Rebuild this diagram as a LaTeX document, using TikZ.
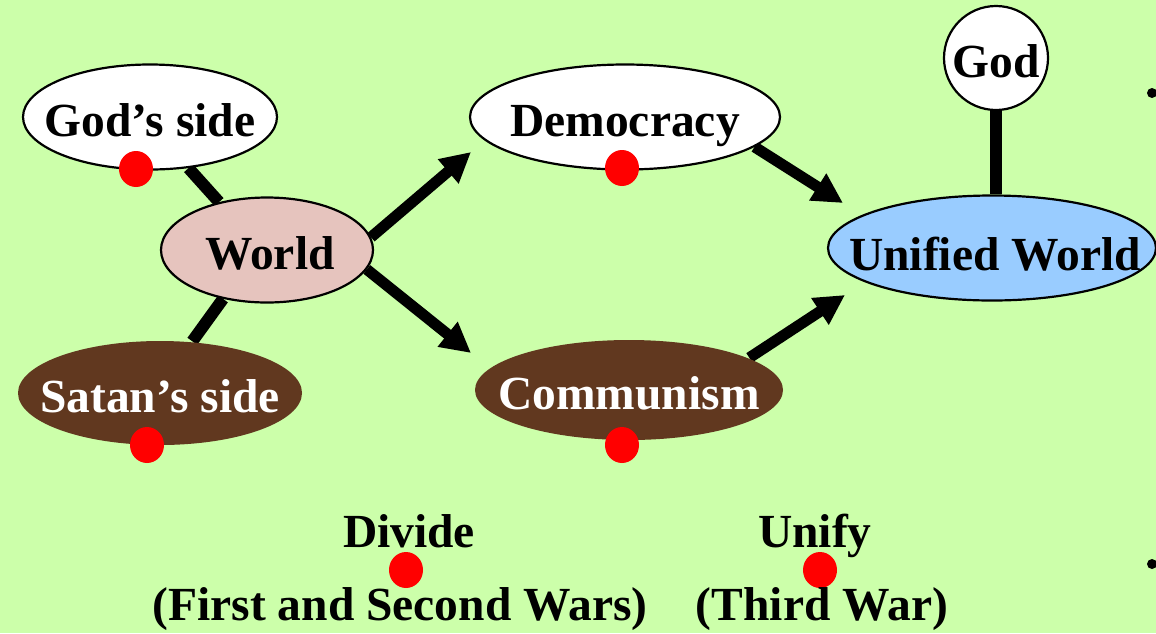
\documentclass[tikz,border=0pt]{standalone}
\usepackage{fontspec}
\setmainfont{Liberation Serif}
\usetikzlibrary{shapes.geometric,arrows.meta,backgrounds}
\definecolor{bggreen}{RGB}{204,255,170}
\definecolor{brownfill}{RGB}{97,56,31}
\definecolor{pinkfill}{RGB}{230,196,190}
\definecolor{bluefill}{RGB}{153,204,255}
\newcommand\bigbold{\fontsize{47.5}{51}\selectfont\bfseries}
\tikzset{
  oval/.style={ellipse, inner sep=0pt, text height=38pt, text depth=0pt, font=\bigbold, line width=2.2pt},
  reddot/.style={ellipse, fill=red, inner sep=0pt, minimum width=34pt, minimum height=36pt},
  bar/.style={line width=12pt},
  arr/.style={line width=11pt, -{Triangle[length=30pt,width=30pt]}},
  label/.style={font=\bigbold, anchor=base, inner sep=0pt},
  bullet/.style={circle, fill=black, inner sep=0pt, minimum size=10pt}
}
\begin{document}
\begin{tikzpicture}[x=1pt,y=-1pt]
\useasboundingbox (0,0) rectangle (1156,633);
% nodes
\node[oval, draw=black, fill=white, minimum width=254pt, minimum height=105pt] (gods) at (150,117) {\makebox[0pt]{God’s side}};
\node[oval, draw=black, fill=pinkfill, minimum width=212pt, minimum height=105pt] (world) at (267,250) {\makebox[0pt]{\hspace*{6pt}World}};
\node[oval, fill=brownfill, text=white, minimum width=284pt, minimum height=104pt] (satan) at (160,393) {\makebox[0pt]{Satan’s side}};
\node[oval, draw=black, fill=white, minimum width=310pt, minimum height=105pt] (demo) at (625,117) {\makebox[0pt]{Democracy}};
\node[oval, fill=brownfill, text=white, minimum width=308pt, minimum height=100pt] (comm) at (629,390) {\makebox[0pt]{Communism}};
\node[oval, draw=black, fill=bluefill, minimum width=328pt, minimum height=105pt] (unified) at (992,248) {\makebox[0pt]{\hspace*{6pt}\raisebox{-3pt}{Unified World}}};
\node[oval, circle, draw=black, fill=white, minimum size=104pt] (god) at (996,58) {\makebox[0pt]{God}};
% arrow tips
\coordinate (tipD) at (471,152);
\coordinate (tipC) at (471,353);
\coordinate (tipU1) at (843,203);
\coordinate (tipU2) at (845,295);
% connectors
\begin{pgfonlayer}{background}
  \fill[bggreen] (0,0) rectangle (1156,633);
  \draw[bar] (gods.-53) -- (world.135);
  \draw[bar] (world.228) -- (satan.58);
  \draw[bar] (god.south) -- (god.south |- unified.north);
  \draw[arr] (world.7) -- (tipD);
  \draw[arr] (world.-11) -- (tipC);
  \draw[arr] (demo.-13) -- (tipU1);
  \draw[arr] (comm.15) -- (tipU2);
\end{pgfonlayer}
% red dots
\node[reddot] (dot1) at (136,169) {};
\node[reddot] (dot2) at (147,445) {};
\node[reddot] (dot3) at (622,168) {};
\node[reddot] (dot4) at (622,445) {};
\node[reddot] (dot5) at (406,570) {};
\node[reddot] (dot6) at (820,570) {};
% bottom labels
\node[label] (divide) at (409,547) {Divide};
\node[label] (unify) at (815,547) {Unify};
\node[label] (wars) at (400,620) {(First and Second Wars)};
\node[label] (third) at (822,620) {(Third War)};
% bullets
\node[bullet] (b1) at (1152,93) {};
\node[bullet] (b2) at (1152,564) {};
\end{tikzpicture}
\end{document}
